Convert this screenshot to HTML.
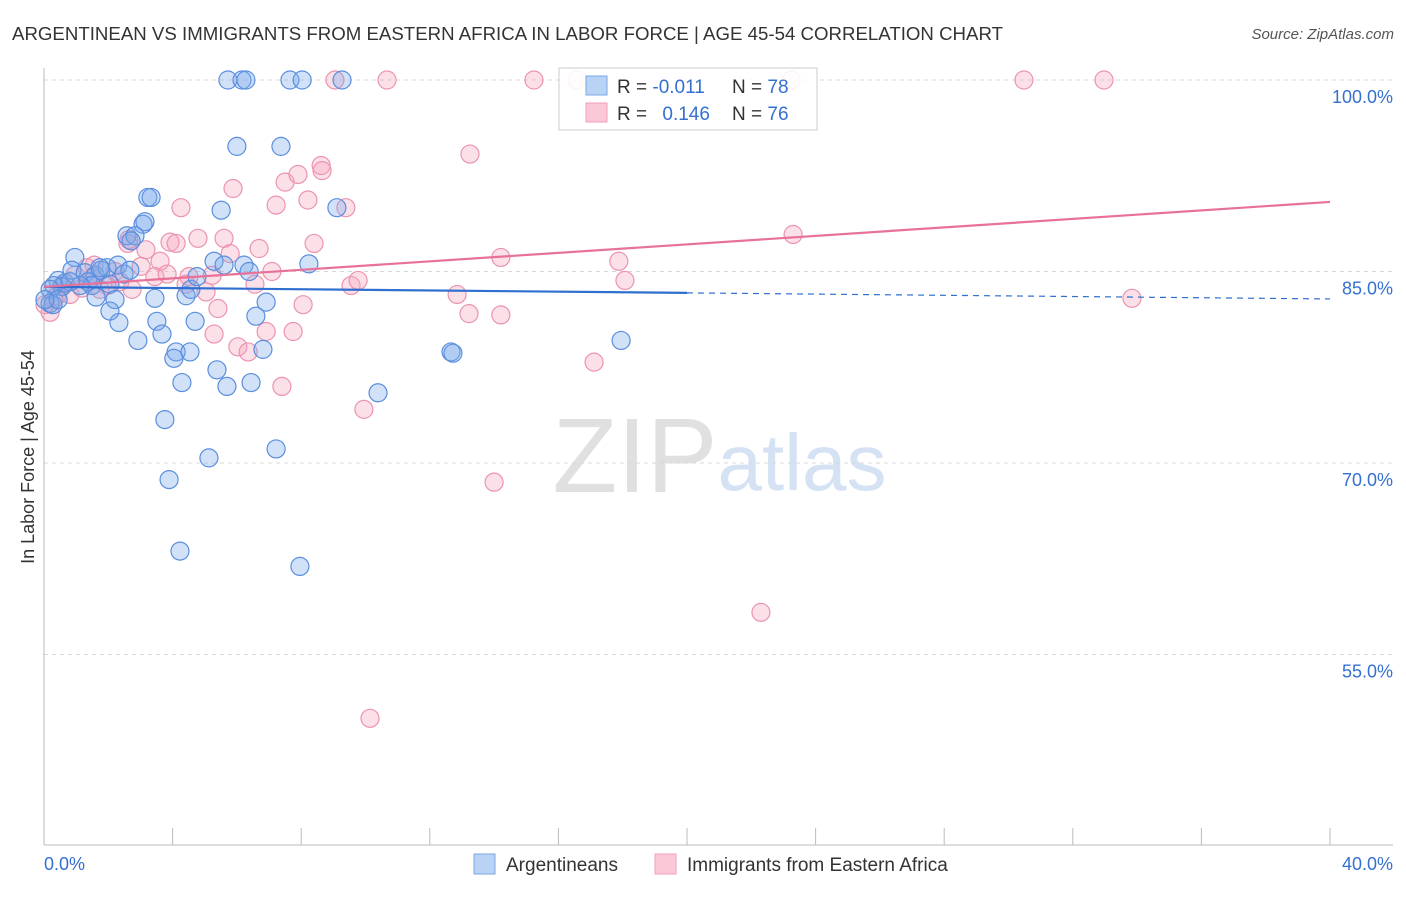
<!DOCTYPE html>
<html><head><meta charset="utf-8"><style>
body{margin:0;background:#fff;font-family:"Liberation Sans",sans-serif;}
svg text{font-family:"Liberation Sans",sans-serif;}
</style></head><body>
<svg id="chart" width="1406" height="892" xmlns="http://www.w3.org/2000/svg">
<text x="12" y="40" font-size="18.5" fill="#333" textLength="991" lengthAdjust="spacingAndGlyphs">ARGENTINEAN VS IMMIGRANTS FROM EASTERN AFRICA IN LABOR FORCE | AGE 45-54 CORRELATION CHART</text>
<text x="1394" y="39" font-size="15" fill="#555" font-style="italic" text-anchor="end">Source: ZipAtlas.com</text>
<text transform="translate(34,457) rotate(-90)" font-size="18" fill="#333" text-anchor="middle">In Labor Force | Age 45-54</text>
<g>
<text x="635" y="492" font-size="106" fill="#e0e0e0" font-family="Liberation Serif" text-anchor="middle">ZIP</text>
<text x="802" y="490" font-size="80" fill="#d4e2f4" text-anchor="middle">atlas</text>
</g>
<g id="grid"></g><g id="axes"></g><g id="pts"></g><g id="trend"></g>
<g>
<rect x="559" y="68" width="258" height="62" fill="#fff" fill-opacity="0.9" stroke="#ccc"/>
<rect x="586" y="76" width="21" height="19" fill="#b9d3f5" stroke="#7aa7e6"/>
<rect x="586" y="103" width="21" height="19" fill="#fbc8d7" stroke="#f0a0b8"/>
<text x="617" y="93" font-size="19" fill="#333">R = <tspan fill="#3470d0">-0.011</tspan></text>
<text x="732" y="93" font-size="19" fill="#333">N = <tspan fill="#3470d0">78</tspan></text>
<text x="617" y="120" font-size="19" fill="#333">R = <tspan fill="#3470d0" dx="10">0.146</tspan></text>
<text x="732" y="120" font-size="19" fill="#333">N = <tspan fill="#3470d0">76</tspan></text>
</g>
<g>
<rect x="474" y="854" width="21" height="20" fill="#b9d3f5" stroke="#7aa7e6"/>
<text x="506" y="871" font-size="19" fill="#333">Argentineans</text>
<rect x="655" y="854" width="21" height="20" fill="#fbc8d7" stroke="#f0a0b8"/>
<text x="687" y="871" font-size="19" fill="#333">Immigrants from Eastern Africa</text>
</g>
</svg>
<script>
const yTicks=[100,85,70,55];
const yTickLabels=["100.0%","85.0%","70.0%","55.0%"];
const xTicks=[0,4,8,12,16,20,24,28,32,36,40];
const blueX=[5.72,6.16,6.28,7.65,8.03,9.27,6.0,7.37,3.23,3.33,5.51,9.11,3.08,3.14,2.58,2.83,2.71,0.96,5.29,6.22,5.6,8.24,6.38,0.44,0.65,0.87,1.28,1.59,1.77,1.96,2.3,2.49,1.37,1.49,0.56,0.31,0.19,0.19,0.28,1.62,2.05,2.21,3.45,4.42,4.57,4.76,6.91,2.05,2.33,3.51,4.7,6.59,2.92,3.67,4.11,4.04,4.54,6.81,12.66,12.72,17.95,5.38,4.29,5.69,6.44,10.39,3.76,7.22,5.13,3.89,4.23,7.96,2.67,1.74,1.12,0.81,0.44,0.03];
const blueY=[100,100,100,100,100,100,94.8,94.8,90.8,90.8,89.8,90.0,88.7,88.9,87.8,87.8,87.4,86.1,85.8,85.5,85.5,85.6,85.0,84.3,84.1,85.1,84.9,84.7,85.1,85.3,85.5,84.8,84.2,83.9,83.8,83.9,83.6,82.5,82.4,83.0,84.0,82.8,82.9,83.1,83.6,84.6,82.6,81.9,81.0,81.1,81.1,81.5,79.6,80.1,78.7,78.2,78.7,78.9,78.7,78.6,79.6,77.3,76.3,76.0,76.3,75.5,73.4,71.1,70.4,68.7,63.1,61.9,85.1,85.3,83.9,84.2,82.8,82.8];
const pinkX=[9.05,10.67,15.24,16.58,23.24,30.48,32.97,8.62,8.65,13.25,5.88,7.5,7.9,7.22,8.21,9.39,4.26,1.56,3.92,4.11,4.79,5.6,2.61,3.17,3.61,5.79,6.69,8.4,2.64,14.21,17.88,18.07,23.3,33.84,3.02,3.45,3.83,4.51,5.23,4.42,5.04,7.09,6.56,9.55,9.77,2.74,2.36,1.96,1.34,1.52,0.81,0.4,0.19,12.85,5.41,8.06,13.22,14.21,5.29,6.03,6.35,6.91,7.75,7.4,9.95,17.11,14.0,22.3,10.14,0.56,0.31,0.96,2.21,1.74,1.18,0.03];
const pinkY=[100,100,100,100,100,100,100,93.3,92.9,94.2,91.5,92.0,92.6,90.2,90.6,90.0,90.0,85.5,87.3,87.2,87.6,87.6,87.2,86.7,85.8,86.4,86.8,87.2,87.5,86.1,85.8,84.3,87.9,82.9,85.4,84.6,84.8,84.6,84.7,84.0,83.4,85.0,84.0,83.9,84.3,83.6,84.2,83.9,85.3,84.5,83.2,83.1,81.8,83.2,82.1,82.4,81.7,81.6,80.1,79.1,78.7,80.3,80.3,76.0,74.2,77.9,68.5,58.3,50.0,83.9,82.8,84.7,85.0,83.6,83.7,82.4];
const blueTrend=[83.8,82.85];
const pinkTrend=[83.8,90.45];
const NS="http://www.w3.org/2000/svg";
const X=v=>44+v/40*1286;
const Y=v=>80+(100-v)/15*191.5;
function mk(t,a,p){const e=document.createElementNS(NS,t);for(const k in a)e.setAttribute(k,a[k]);p.appendChild(e);return e;}
const grid=document.getElementById('grid'),axes=document.getElementById('axes'),pts=document.getElementById('pts'),trend=document.getElementById('trend');
yTicks.forEach((t,i)=>{
 const l=mk('line',{x1:44,x2:1393,y1:Y(t),y2:Y(t),stroke:'#d8d8d8','stroke-dasharray':'4,4'},grid);
 
 
 const tx=mk('text',{x:1393,y:Y(t)+23,'font-size':18,fill:'#3470d0','text-anchor':'end'},grid);
 tx.textContent=yTickLabels[i];
 
 
});
const ax=mk('line',{x1:44,x2:1393,y1:845,y2:845,stroke:'#bbb'},axes);


const ay=mk('line',{x1:44,x2:44,y1:68,y2:845,stroke:'#bbb'},axes);


xTicks.forEach(t=>{
 const l=mk('line',{x1:X(t),x2:X(t),y1:828,y2:845,stroke:'#bbb'},axes);
 
 
});
const xl0=mk('text',{x:44,y:870,'font-size':18,fill:'#3470d0'},axes);xl0.textContent='0.0%';


const xl1=mk('text',{x:1393,y:870,'font-size':18,fill:'#3470d0','text-anchor':'end'},axes);xl1.textContent='40.0%';


pinkX.forEach((v,i)=>{
 const c=mk('circle',{cx:X(v),cy:Y(pinkY[i]),r:9,fill:'rgba(246,166,190,0.35)',stroke:'#ec93b0','stroke-width':1.2},pts);
 
 
});
blueX.forEach((v,i)=>{
 const c=mk('circle',{cx:X(v),cy:Y(blueY[i]),r:9,fill:'rgba(120,170,235,0.35)',stroke:'#5a8ede','stroke-width':1.2},pts);
 
 
});
const bMid=blueTrend[0]+(blueTrend[1]-blueTrend[0])*0.5;
const b1=mk('line',{x1:X(0),y1:Y(blueTrend[0]),x2:X(20),y2:Y(bMid),stroke:'#2f6fd0','stroke-width':2.2},trend);


const b2=mk('line',{x1:X(20),y1:Y(bMid),x2:X(40),y2:Y(blueTrend[1]),stroke:'#2f6fd0','stroke-width':1.2,'stroke-dasharray':'6,5'},trend);


const p1=mk('line',{x1:X(0),y1:Y(pinkTrend[0]),x2:X(40),y2:Y(pinkTrend[1]),stroke:'#e8719a','stroke-width':2.2},trend);


</script>
</body></html>
